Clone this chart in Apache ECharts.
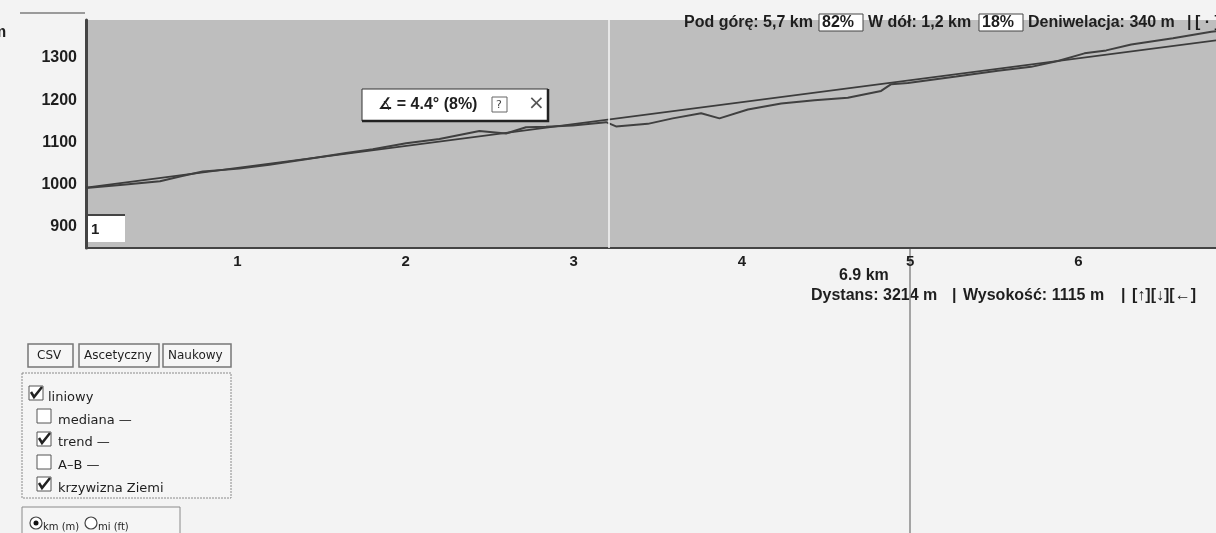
<!DOCTYPE html>
<html>
<head>
<meta charset="utf-8">
<script src="https://cdn.jsdelivr.net/npm/echarts@6/dist/echarts.min.js"></script>
<style>
html,body{margin:0;padding:0;background:#f3f3f3;}
#chart{width:1216px;height:533px;}
</style>
</head>
<body>
<div id="chart"></div>
<script>
// ---- data ----
const profileKm   = [0.1, 0.32, 0.54, 0.665, 0.794, 1.012, 1.19, 1.408, 1.646, 1.805, 2.003, 2.201, 2.439, 2.597, 2.716, 2.835, 2.994, 3.192, 3.251, 3.44, 3.588, 3.757, 3.866, 4.035, 4.233, 4.431, 4.629, 4.827, 4.887, 4.986, 5.273, 5.521, 5.719, 5.878, 6.036, 6.165, 6.314, 6.562, 6.79, 6.9];
const profileElev = [992, 1000, 1008, 1020, 1031, 1038, 1047, 1060, 1075, 1084, 1098, 1108, 1127, 1121, 1136, 1137, 1140, 1148, 1138, 1144, 1157, 1169, 1157, 1178, 1192, 1200, 1206, 1222, 1238, 1241, 1256, 1270, 1279, 1293, 1311, 1318, 1332, 1347, 1362, 1368];
const trendKm   = [0.1, 6.9];
const trendElev = [993, 1346];
const xTickLabels = [1, 2, 3, 4, 5, 6];
const yTickLabels = [900, 1000, 1100, 1200, 1300];
const cursorKm = 3.214;

const chart = echarts.init(document.getElementById('chart'), null, {renderer: 'canvas'});
const sans = '"Liberation Sans", Arial, "DejaVu Sans", sans-serif';
const bold16 = 'bold 16px ' + sans;
const txtColor = '#1e1e1e';

function checkbox(x, y, checked) {
  const els = [{type:'rect', shape:{x:x, y:y, width:14, height:14}, style:{fill:'#ffffff', stroke:'#555', lineWidth:1}}];
  if (checked) els.push({type:'polyline', shape:{points:[[x+2,y+6],[x+5,y+11],[x+13,y+1]]}, style:{stroke:'#222', lineWidth:2.5, fill:null}});
  return els;
}
function label(x, y, text, font, color) {
  return {type:'text', x:x, y:y, style:{text:text, font:font, fill:color || txtColor, textVerticalAlign:'middle'}};
}
const panelFont = '13px "DejaVu Sans", sans-serif';
const btnFont = '12px "DejaVu Sans", sans-serif';

const graphics = [
  // top-left tab line and cut-off unit
  {type:'line', shape:{x1:20, y1:13, x2:85, y2:13}, style:{stroke:'#9a9a9a', lineWidth:2}},
  label(-8, 33, 'm', 'bold 16px ' + sans),
  // legend "1" box
  {type:'rect', shape:{x:87, y:215, width:38, height:27}, style:{fill:'#ffffff'}},
  {type:'line', shape:{x1:86, y1:215, x2:125, y2:215}, style:{stroke:'#444', lineWidth:2}},
  label(91, 230, '1', 'bold 15px ' + sans),
  // angle tooltip box
  {type:'rect', shape:{x:362, y:89, width:186, height:32}, style:{fill:'#ffffff', stroke:'#333', lineWidth:1}},
  {type:'polyline', shape:{points:[[362,121],[548,121],[548,89]]}, style:{stroke:'#222', lineWidth:2.5, fill:null}},
  label(378, 105, '∡ = 4.4° (8%)', 'bold 16px ' + sans),
  {type:'rect', shape:{x:492, y:97, width:15, height:15}, style:{fill:'#ffffff', stroke:'#666', lineWidth:1}},
  label(496, 105, '?', '11px "DejaVu Sans", sans-serif', '#444'),
  label(528, 104, '×', '20px "DejaVu Sans", sans-serif', '#555'),
  // top-right summary
  label(684, 23, 'Pod górę: 5,7 km', bold16),
  {type:'rect', shape:{x:819, y:14, width:44, height:17}, style:{fill:'#ffffff', stroke:'#444', lineWidth:1}},
  label(822, 23, '82%', bold16),
  label(868, 23, 'W dół: 1,2 km', bold16),
  {type:'rect', shape:{x:979, y:14, width:44, height:17}, style:{fill:'#ffffff', stroke:'#444', lineWidth:1}},
  label(982, 23, '18%', bold16),
  label(1028, 23, 'Deniwelacja: 340 m', bold16),
  label(1187, 23, '|', bold16),
  label(1195, 23, '[ · ]', bold16),
  // below axis texts
  label(839, 276, '6.9 km', bold16),
  label(811, 296, 'Dystans: 3214 m', bold16),
  label(952, 296, '|', bold16),
  label(963, 296, 'Wysokość: 1115 m', bold16),
  label(1121, 296, '|', bold16),
  label(1132, 296, '[↑][↓][←]', bold16),
  {type:'line', shape:{x1:910, y1:249, x2:910, y2:533}, style:{stroke:'#8a8a8a', lineWidth:1.5}},
  // buttons
  {type:'rect', shape:{x:28, y:344, width:45, height:23}, style:{fill:'#f6f6f6', stroke:'#777', lineWidth:1.5}},
  label(37, 356, 'CSV', btnFont),
  {type:'rect', shape:{x:79, y:344, width:80, height:23}, style:{fill:'#f6f6f6', stroke:'#777', lineWidth:1.5}},
  label(84, 356, 'Ascetyczny', btnFont),
  {type:'rect', shape:{x:163, y:344, width:68, height:23}, style:{fill:'#f6f6f6', stroke:'#777', lineWidth:1.5}},
  label(168, 356, 'Naukowy', btnFont),
  // options panel
  {type:'rect', shape:{x:22, y:373, width:209, height:125}, style:{fill:'#f5f5f5', stroke:'#8a8a8a', lineWidth:1, lineDash:[2,1]}},
  ...checkbox(29, 386, true),
  label(48, 398, 'liniowy', panelFont),
  ...checkbox(37, 409, false),
  label(58, 421, 'mediana —', panelFont),
  ...checkbox(37, 432, true),
  label(58, 443, 'trend —', panelFont),
  ...checkbox(37, 455, false),
  label(58, 466, 'A–B —', panelFont),
  ...checkbox(37, 477, true),
  label(58, 489, 'krzywizna Ziemi', panelFont),
  // units panel
  {type:'rect', shape:{x:22, y:507, width:158, height:40}, style:{fill:'#f5f5f5', stroke:'#8a8a8a', lineWidth:1}},
  {type:'circle', shape:{cx:36, cy:523, r:6}, style:{fill:'#fff', stroke:'#444', lineWidth:1.2}},
  {type:'circle', shape:{cx:36, cy:523, r:2.5}, style:{fill:'#111'}},
  label(43, 527, 'km (m)', '10px "DejaVu Sans", sans-serif'),
  {type:'circle', shape:{cx:91, cy:523, r:6}, style:{fill:'#fff', stroke:'#444', lineWidth:1.2}},
  label(98, 527, 'mi (ft)', '10px "DejaVu Sans", sans-serif')
];

const option = {
  animation: false,
  backgroundColor: '#f3f3f3',
  grid: {left: 86, top: 20, right: -2, bottom: 285, show: true, backgroundColor: '#bebebe', borderWidth: 0},
  xAxis: {
    type: 'value', min: 0.1, max: 6.818, interval: 0.1,
    axisLine: {show: true, onZero: false, lineStyle: {color: '#444', width: 2}},
    axisTick: {show: false},
    splitLine: {show: false},
    axisLabel: {
      margin: 6, color: txtColor, fontSize: 15, fontWeight: 'bold', fontFamily: sans,
      showMaxLabel: false, showMinLabel: false,
      formatter: function (v) {
        const r = Math.round(v);
        return (Math.abs(v - r) < 1e-6 && xTickLabels.indexOf(r) >= 0) ? String(r) : '';
      }
    }
  },
  yAxis: {
    type: 'value', min: 850, max: 1390, interval: 50,
    axisLine: {show: true, lineStyle: {color: '#444', width: 3}},
    axisTick: {show: false},
    splitLine: {show: false},
    axisLabel: {
      margin: 9, color: txtColor, fontSize: 16, fontWeight: 'bold', fontFamily: sans,
      formatter: function (v) { return yTickLabels.indexOf(v) >= 0 ? String(v) : ''; }
    }
  },
  series: [
    {
      name: 'trend', type: 'line', symbol: 'none', silent: true, clip: true,
      data: trendKm.map((x, i) => [x, trendElev[i]]),
      lineStyle: {color: '#3c3c3c', width: 1.8}
    },
    {
      name: 'profil', type: 'line', symbol: 'none', silent: true, clip: true,
      data: profileKm.map((x, i) => [x, profileElev[i]]),
      lineStyle: {color: '#404040', width: 2},
      markLine: {
        silent: true, symbol: 'none', label: {show: false},
        lineStyle: {color: '#f4f4f4', width: 1.5, type: 'solid'},
        data: [{xAxis: cursorKm}]
      }
    }
  ],
  graphic: graphics
};
chart.setOption(option);
</script>
</body>
</html>
